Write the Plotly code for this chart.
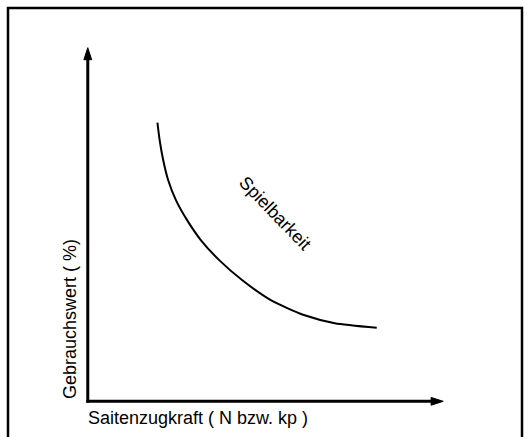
import plotly.graph_objects as go

# Data (arbitrary units 0-100, schematic curve)
tension = [19.6, 20.2, 21.2, 22.6, 24.8, 27.9, 31.8, 36.9, 43.4, 51.5, 60.8, 69.5, 81.3]
playability = [78.8, 74.0, 68.3, 62.6, 56.9, 51.3, 45.6, 40.0, 34.3, 28.6, 24.4, 22.1, 20.8]

curve_label = "Spielbarkeit"
x_title = "Saitenzugkraft ( N bzw. kp )"
y_title = "Gebrauchswert ( %)"

FONT = "Liberation Sans, Arial, Helvetica, sans-serif"

fig = go.Figure()
fig.add_trace(go.Scatter(
    x=tension, y=playability, mode="lines",
    line=dict(color="black", width=2, shape="spline", smoothing=0.6),
    hoverinfo="skip", showlegend=False,
))

# Axis lines with arrowheads
shapes = [
    dict(type="line", xref="x", yref="y", x0=0, y0=-0.4, x1=0, y1=97,
         line=dict(color="black", width=3)),
    dict(type="line", xref="x", yref="y", x0=-0.4, y0=0, x1=97, y1=0,
         line=dict(color="black", width=3)),
    dict(type="path", xref="x", yref="y", path="M 0,100 L -1.1,96.6 L 1.1,96.6 Z",
         fillcolor="black", line=dict(color="black", width=1)),
    dict(type="path", xref="x", yref="y", path="M 100,0 L 96.6,1.1 L 96.6,-1.1 Z",
         fillcolor="black", line=dict(color="black", width=1)),
]

# Frame (left, top, right border; bottom runs off the page)
def xp(px):
    return (px - 70) / 391.0
def yp(py):
    return (437 - 18 - py) / 389.0
shapes.append(dict(
    type="path", xref="paper", yref="paper",
    path=f"M {xp(8)},{yp(445)} L {xp(8)},{yp(8)} L {xp(522)},{yp(8)} L {xp(522)},{yp(445)}",
    line=dict(color="black", width=2.5),
))

annotations = [
    dict(x=52.6, y=53.2, xref="x", yref="y", text=curve_label, showarrow=False,
         textangle=46, xanchor="center", yanchor="middle",
         font=dict(family=FONT, size=18, color="black")),
    dict(x=xp(70), y=yp(319), xref="paper", yref="paper", text=y_title, showarrow=False,
         textangle=-90, xanchor="center", yanchor="middle",
         font=dict(family=FONT, size=18, color="black")),
    dict(x=xp(86), y=yp(418), xref="paper", yref="paper", text=x_title, showarrow=False,
         xanchor="left", yanchor="middle", font=dict(family=FONT, size=18, color="black")),
]

fig.update_layout(
    width=531, height=437,
    margin=dict(l=70, r=70, t=30, b=18),
    paper_bgcolor="white", plot_bgcolor="white",
    xaxis=dict(range=[-5, 105], visible=False, fixedrange=True),
    yaxis=dict(range=[-5, 105], visible=False, fixedrange=True),
    shapes=shapes, annotations=annotations,
)

fig.write_html(
    "out.html",
    config={"displayModeBar": False},
    post_script="document.body.style.margin='0';document.body.style.overflow='hidden';",
)
